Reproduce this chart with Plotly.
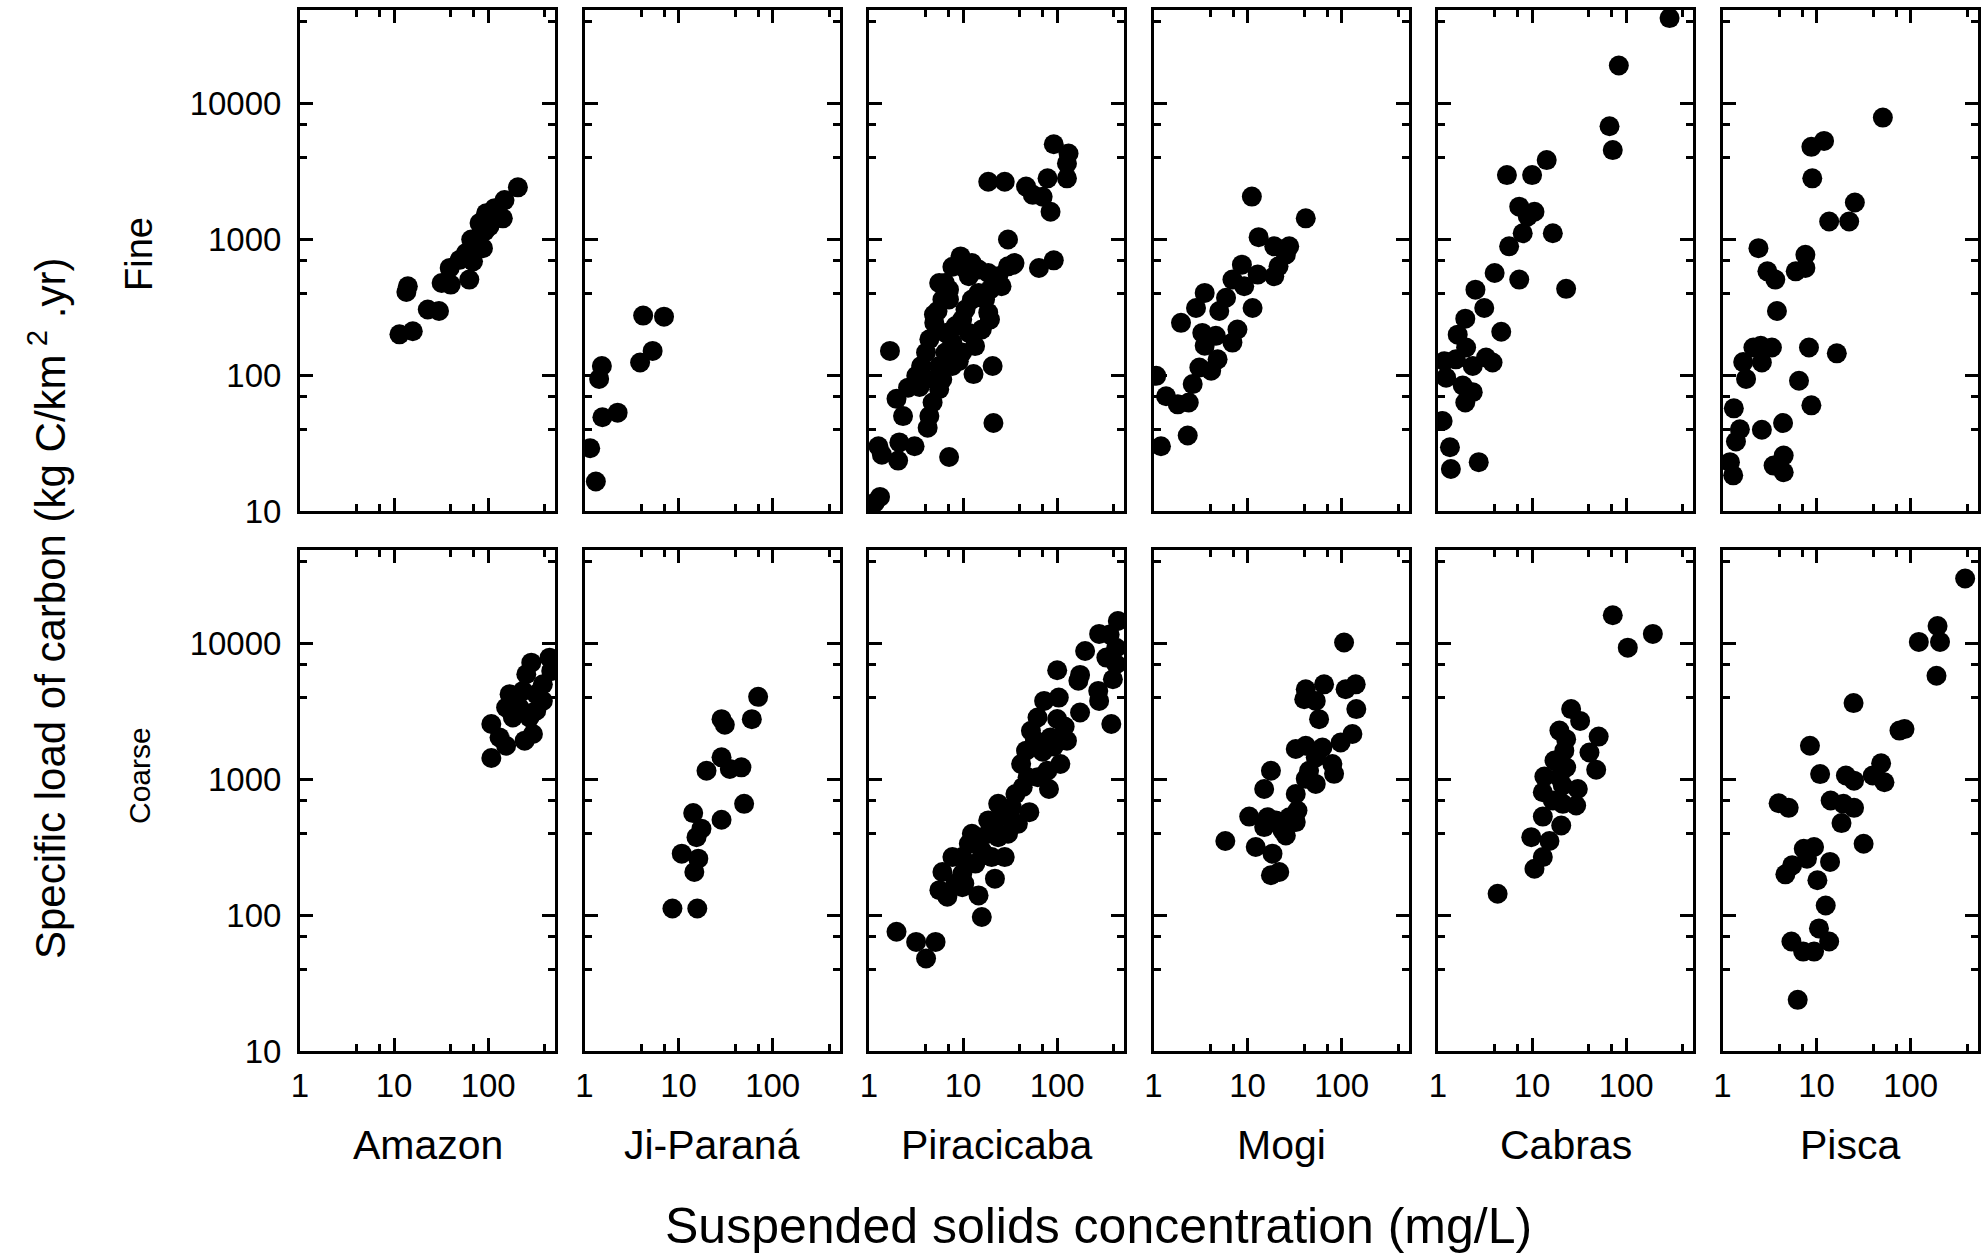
import plotly.graph_objects as go

FONT = "Liberation Sans, Arial, sans-serif"

rivers = ["Amazon", "Ji-Paraná", "Piracicaba", "Mogi", "Cabras", "Pisca"]
fractions = ["Fine", "Coarse"]
x_tick_vals = [1, 10, 100]
x_tick_text = ["1", "10", "100"]
y_tick_vals = [10, 100, 1000, 10000]
y_tick_text = ["10", "100", "1000", "10000"]
x_minor_vals = [4, 7, 40, 70, 400]
y_minor_vals = [40, 70, 400, 700, 4000, 7000, 40000]
x_title = "Suspended solids concentration (mg/L)"
y_title = "Specific load of carbon (kg C/km<sup> 2</sup> .yr)"

# ---------------- Fine fraction ----------------
amazon_fine_x = [207, 149, 117, 143, 95, 103, 81, 84, 88, 66, 58, 69, 50, 39, 63, 32, 40, 14, 13.5, 22.8,
                 30, 15.8, 11.4, 75, 92, 110, 125]
amazon_fine_y = [2420, 1950, 1700, 1430, 1560, 1245, 1320, 1110, 863, 1000, 795, 690, 710, 617, 506, 478, 465,
                 452, 410, 305, 297, 211, 200, 900, 1150, 1400, 1600]

ji_fine_x = [4.2, 7.0, 5.3, 3.9, 1.53, 1.43, 2.25, 1.55, 1.15, 1.32]
ji_fine_y = [275, 270, 151, 124, 117, 94, 53, 49, 29, 16.5]

pira_fine_x = [92, 132, 127, 127, 79, 18.5, 27.7, 46.7, 55, 70, 85, 30, 34, 92, 64, 9.4, 7.7, 6.4, 4.9, 18.5,
               13.4, 1.67, 9.0, 12.9, 20.6, 1.96, 2.3, 4.2, 2.1, 3.05, 1.26, 1.37, 2.04, 7.1, 21, 1.31, 1.15,
               2.6, 3.18, 3.58, 4.04, 4.38, 4.94, 5.35, 6.03, 7.08, 3.44, 4.04, 4.74, 4.38, 5.57, 6.0, 5.57,
               6.5, 6.5, 7.67, 8.3, 9.77, 10.6, 12.4, 14.6, 17.1, 19.3, 15.8, 11.5, 9.77, 7.67, 11.5, 14.6,
               18.5, 23.6, 30, 35.2, 25.6, 19.3, 9.77, 12.4, 5.57, 7.08]
pira_fine_y = [5030, 4300, 3630, 2820, 2820, 2660, 2660, 2450, 2130, 2065, 1600, 1000, 652, 702, 616, 750, 630,
               478, 280, 289, 164, 151, 127, 102, 117, 67, 50, 41, 32, 30, 30, 26, 23.5, 25, 44.5, 12.7, 11.5,
               81, 99, 117, 147, 184, 243, 297, 361, 427, 82, 94, 63, 50, 79, 93, 117, 147, 205, 174, 230,
               257, 305, 361, 404, 361, 257, 217, 205, 147, 117, 536, 600, 566, 536, 634, 670, 452, 427, 630,
               670, 478, 361]

mogi_fine_x = [11.1, 41.5, 13.1, 19.2, 27.7, 25.5, 21.3, 19.2, 8.7, 12.8, 6.9, 9.2, 3.5, 5.9, 2.83, 11.3, 5.0,
               1.96, 7.8, 3.3, 6.9, 4.6, 3.5, 4.8, 3.07, 4.1, 2.61, 1.07, 1.36, 1.81, 2.37, 2.31, 1.2]
mogi_fine_y = [2070, 1430, 1040, 890, 890, 772, 634, 536, 652, 551, 506, 452, 404, 372, 313, 313, 297, 243, 217,
               205, 174, 195, 165, 131, 114, 108, 86, 99, 70, 61, 63, 36, 30]

cabras_fine_x = [289, 83.5, 66.5, 72, 14.3, 5.4, 10, 7.3, 10.6, 9.0, 7.95, 16.6, 5.7, 4.0, 7.3, 23, 2.5, 3.1,
                 1.95, 4.7, 1.62, 1.99, 1.17, 1.55, 2.34, 3.24, 3.8, 1.22, 1.83, 2.34, 1.95, 1.12, 1.34, 1.37,
                 2.71]
cabras_fine_y = [42700, 19100, 6820, 4550, 3840, 2980, 2980, 1745, 1600, 1475, 1110, 1110, 890, 566, 506, 433,
                 427, 313, 261, 209, 199, 160, 127, 131, 117, 135, 124, 96, 84, 75, 63, 46, 29.5, 20.4, 22.9]

pisca_fine_x = [50.6, 12, 8.8, 9.0, 25.5, 13.6, 22.2, 2.41, 7.6, 7.6, 6.0, 3.0, 3.64, 3.79, 2.55, 2.13, 3.35,
                8.3, 16.4, 2.62, 1.66, 1.78, 6.5, 8.8, 1.32, 4.4, 2.62, 1.53, 1.39, 1.2, 4.47, 3.49, 4.47, 1.3]
pisca_fine_y = [7900, 5320, 4810, 2820, 1870, 1355, 1355, 863, 772, 617, 582, 582, 506, 297, 165, 160, 160, 160,
                145, 124, 125, 94, 91, 60, 57, 44.5, 39.7, 40, 32.5, 22.9, 25.6, 21.6, 19.3, 18.3]

# ---------------- Coarse fraction ----------------
amazon_coarse_x = [108, 108, 132, 155, 169, 155, 183, 244, 299, 275, 381, 254, 287, 449, 468, 381, 324, 234,
                   215, 324, 500]
amazon_coarse_y = [1440, 2560, 2040, 1770, 4250, 3390, 2860, 1930, 2160, 2860, 3790, 5960, 7250, 7890, 6300,
                   5020, 4250, 4490, 3390, 3210, 7000]

ji_coarse_x = [70, 60, 28.6, 31, 28.6, 35, 46.5, 19.8, 49.7, 28.6, 14.3, 17.5, 15.5, 10.8, 16.2, 14.7, 8.6, 15.8]
ji_coarse_y = [4060, 2780, 2780, 2530, 1455, 1195, 1228, 1160, 661, 505, 565, 434, 376, 284, 261, 208, 112, 112]

pira_coarse_x = [441, 361, 279, 198, 424, 333, 424, 100, 175, 168, 391, 273, 279, 376, 104, 72.6, 175, 61.8,
                 52.6, 100, 127, 46.7, 41.4, 85, 108, 78.6, 48.5, 43, 81.8, 62, 23.6, 50.6, 38.2, 30, 21, 12.4,
                 18.5, 30, 7.7, 15.8, 6.03, 9.8, 13.5, 21.8, 27.7, 5.6, 6.8, 14.6, 15.8, 1.96, 3.17, 5.1, 4.04,
                 9.8, 11.5, 14.6, 18.5, 25.6, 23.6, 20.1, 9.8, 10.3, 8.3, 70, 92, 58, 120, 36, 33]
pira_coarse_y = [14700, 11700, 11800, 8830, 9340, 7900, 7050, 6370, 5890, 5330, 5470, 4490, 3790, 2560, 4010,
                 3790, 3110, 2860, 2280, 2790, 1930, 1630, 1300, 2040, 1300, 1160, 1040, 876, 851, 1040, 661,
                 574, 471, 527, 471, 398, 398, 398, 268, 300, 208, 202, 240, 186, 268, 153, 137, 140, 97, 75.5,
                 63.6, 63.6, 48, 268, 336, 376, 499, 590, 376, 268, 161, 171, 171, 1600, 1750, 1950, 2450, 780,
                 620]

mogi_coarse_x = [106, 141, 110, 65, 41.5, 40, 53, 143, 57.5, 130, 97.5, 62.4, 32.5, 41.5, 53, 79.6, 83, 45,
                 41.5, 53, 17.7, 15, 32.5, 33.9, 27.7, 10.4, 16.3, 15, 23.5, 32.5, 20, 25.5, 5.8, 12.2, 18.4,
                 17.7, 21.7]
mogi_coarse_y = [10200, 5020, 4620, 5020, 4620, 3900, 3790, 3300, 2780, 2160, 1870, 1720, 1675, 1770, 1455,
                 1300, 1100, 1160, 1010, 927, 1160, 851, 781, 590, 527, 533, 527, 446, 421, 485, 499, 387, 352,
                 318, 284, 197, 208]

cabras_coarse_x = [72, 192, 104, 26, 32.4, 19.5, 23, 51, 40.7, 22, 17.3, 48, 23, 13.5, 19.5, 21.2, 30.6, 13,
                   16.6, 21.2, 29.4, 13, 20.4, 9.8, 15.3, 13, 10.6, 4.3]
cabras_coarse_y = [16200, 11800, 9350, 3300, 2700, 2290, 1980, 2070, 1580, 1630, 1380, 1180, 1228, 1050, 1040,
                   902, 851, 805, 700, 661, 643, 533, 458, 376, 352, 268, 220, 144]

pisca_coarse_x = [379, 193, 205, 122, 188, 24.7, 86, 76, 8.5, 48.5, 10.9, 20.5, 25, 52.6, 39.5, 3.95, 5.05,
                  14.1, 19.3, 25, 18.4, 31.6, 7.3, 9.4, 5.5, 4.66, 7.9, 10.2, 13.9, 12.5, 10.6, 13.6, 5.4, 7.2,
                  9.4, 6.3]
pisca_coarse_y = [30200, 13500, 10300, 10300, 5800, 3650, 2350, 2290, 1770, 1315, 1095, 1070, 980, 953, 1070,
                  668, 618, 700, 661, 618, 477, 336, 309, 318, 233, 200, 261, 181, 247, 118, 80, 64, 64, 54, 54,
                  23.8]

panels = [
    [(amazon_fine_x, amazon_fine_y), (ji_fine_x, ji_fine_y), (pira_fine_x, pira_fine_y),
     (mogi_fine_x, mogi_fine_y), (cabras_fine_x, cabras_fine_y), (pisca_fine_x, pisca_fine_y)],
    [(amazon_coarse_x, amazon_coarse_y), (ji_coarse_x, ji_coarse_y), (pira_coarse_x, pira_coarse_y),
     (mogi_coarse_x, mogi_coarse_y), (cabras_coarse_x, cabras_coarse_y), (pisca_coarse_x, pisca_coarse_y)],
]

# The page body margin is removed (see post_script), so the figure fills the window exactly.
W, H = 1988, 1257
col_left = [300 + 284.5 * i for i in range(6)]
col_w = 255
row_top = [10, 550]
row_h = 501


def px_x(p):
    return p / W


def px_y(p):
    return 1 - p / H


fig = go.Figure()
layout = {}
for r in range(2):
    for c in range(6):
        k = r * 6 + c + 1
        xs, ys = panels[r][c]
        fig.add_trace(go.Scatter(
            x=xs, y=ys, mode="markers",
            marker=dict(size=20, color="black", line=dict(width=0)),
            xaxis="x" if k == 1 else f"x{k}", yaxis="y" if k == 1 else f"y{k}",
            showlegend=False, cliponaxis=True,
        ))
        xd = [col_left[c] / W, (col_left[c] + col_w) / W]
        yd = [1 - (row_top[r] + row_h) / H, 1 - row_top[r] / H]
        common = dict(
            type="log", showline=True, linecolor="black", linewidth=3, mirror="allticks",
            ticks="inside", ticklen=13, tickwidth=2.5, tickcolor="black",
            showgrid=False, zeroline=False, automargin=False,
            tickfont=dict(size=33, color="black", family=FONT),
        )
        layout["xaxis" if k == 1 else f"xaxis{k}"] = dict(
            common, domain=xd, range=[0, 2.71],
            anchor="y" if k == 1 else f"y{k}",
            tickmode="array", tickvals=x_tick_vals, ticktext=x_tick_text,
            minor=dict(tickmode="array", tickvals=x_minor_vals, ticks="inside", ticklen=7,
                       tickwidth=2.5, tickcolor="black", showgrid=False),
            showticklabels=(r == 1), ticklabelstandoff=3,
        )
        layout["yaxis" if k == 1 else f"yaxis{k}"] = dict(
            common, domain=yd, range=[1, 4.69],
            anchor="x" if k == 1 else f"x{k}",
            tickmode="array", tickvals=y_tick_vals, ticktext=y_tick_text,
            minor=dict(tickmode="array", tickvals=y_minor_vals, ticks="inside", ticklen=7,
                       tickwidth=2.5, tickcolor="black", showgrid=False),
            showticklabels=(c == 0), ticklabelstandoff=9,
        )

annotations = []
for c, name in enumerate(rivers):
    annotations.append(dict(
        text=name, x=(col_left[c] + col_w / 2) / W, y=px_y(1145), xref="paper", yref="paper",
        showarrow=False, xanchor="center", yanchor="middle",
        font=dict(size=41, color="black", family=FONT)))
frac_sizes = [38, 30]
frac_centers = [254, 776]
for r, name in enumerate(fractions):
    annotations.append(dict(
        text=name, x=px_x(139), y=px_y(frac_centers[r]),
        xref="paper", yref="paper", showarrow=False, textangle=-90,
        xanchor="center", yanchor="middle",
        font=dict(size=frac_sizes[r], color="black", family=FONT)))
annotations.append(dict(
    text=x_title, x=px_x(1098), y=px_y(1226), xref="paper", yref="paper",
    showarrow=False, xanchor="center", yanchor="middle",
    font=dict(size=50, color="black", family=FONT)))
annotations.append(dict(
    text=y_title, x=px_x(47), y=px_y(609), xref="paper", yref="paper",
    showarrow=False, textangle=-90, xanchor="center", yanchor="middle",
    font=dict(size=42, color="black", family=FONT)))

fig.update_layout(
    template="none",
    width=W, height=H, margin=dict(l=0, r=0, t=0, b=0, autoexpand=False),
    paper_bgcolor="white", plot_bgcolor="white",
    annotations=annotations, **layout,
)
fig.write_html(
    "out.html",
    config={"displayModeBar": False},
    post_script="document.body.style.margin='0';document.body.style.overflow='hidden';",
)
